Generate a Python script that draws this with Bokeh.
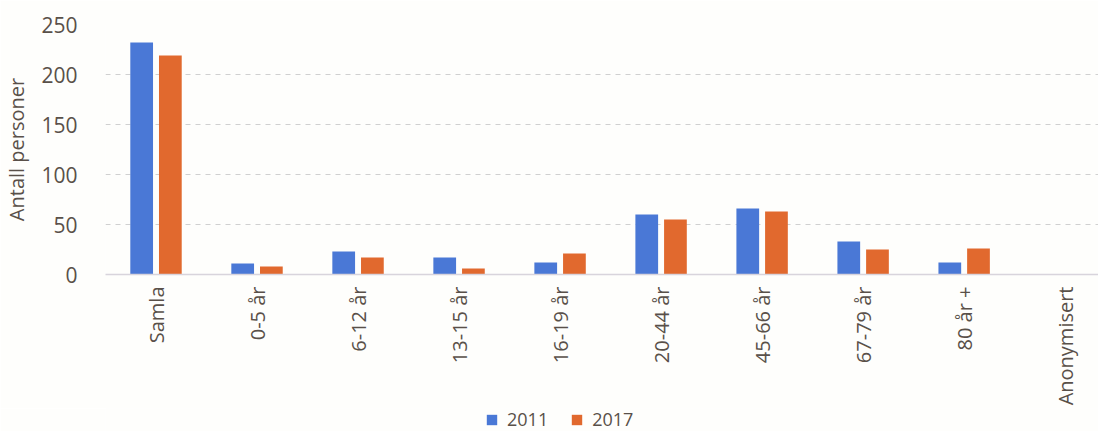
import numpy as np
from bokeh.plotting import figure
from bokeh.layouts import column
from bokeh.models import ColumnDataSource, Range1d, FixedTicker, Legend, LegendItem
from bokeh.transform import dodge
from bokeh.embed import file_html
from bokeh.resources import INLINE

categories = ["Samla", "0-5 år", "6-12 år", "13-15 år", "16-19 år", "20-44 år",
              "45-66 år", "67-79 år", "80 år +", "Anonymisert"]
v2011 = [232, 11, 23, 17, 12, 60, 66, 33, 12, 0]
v2017 = [219, 8, 17, 6, 21, 55, 63, 25, 26, 0]
series = ["2011", "2017"]
y_ticks = [0, 50, 100, 150, 200, 250]

BLUE = "#4a78d6"
ORANGE = "#e1692e"
TEXT = "#595049"
BG = "#fefefc"
FONT = "Open Sans"

src = ColumnDataSource(dict(x=list(range(len(categories))), v2011=v2011, v2017=v2017))

p = figure(width=1098, height=408, output_backend="svg", toolbar_location=None,
           x_range=Range1d(-0.5, 9.33), y_range=Range1d(0, 250),
           min_border_left=95, min_border_right=0, min_border_top=24, min_border_bottom=134)
p.background_fill_color = BG
p.border_fill_color = BG
p.outline_line_color = None

r1 = p.vbar(x=dodge("x", -0.142, range=p.x_range), top="v2011", width=0.225, source=src,
            fill_color=BLUE, line_color=None)
r2 = p.vbar(x=dodge("x", 0.142, range=p.x_range), top="v2017", width=0.225, source=src,
            fill_color=ORANGE, line_color=None)

# x axis
xa = p.xaxis[0]
xa.ticker = FixedTicker(ticks=list(range(len(categories))))
xa.major_label_overrides = {i: c for i, c in enumerate(categories)}
xa.major_label_orientation = np.pi / 2
xa.major_tick_line_color = None
xa.minor_tick_line_color = None
xa.axis_line_color = "#d8d4dc"
xa.axis_line_width = 1.5
xa.major_label_text_font = FONT
xa.major_label_text_font_size = "20px"
xa.major_label_text_color = TEXT
xa.major_label_standoff = 6

# y axis
ya = p.yaxis[0]
ya.ticker = FixedTicker(ticks=y_ticks)
ya.axis_line_color = None
ya.major_tick_line_color = None
ya.minor_tick_line_color = None
ya.major_label_text_font = FONT
ya.major_label_text_font_size = "21px"
ya.major_label_text_color = TEXT
ya.major_label_standoff = 22
ya.axis_label = "Antall personer"
ya.axis_label_text_font = FONT
ya.axis_label_text_font_style = "normal"
ya.axis_label_text_font_size = "20px"
ya.axis_label_text_color = TEXT
ya.axis_label_standoff = 8

p.xgrid.grid_line_color = None
p.ygrid.grid_line_color = "#d0d0d0"
p.ygrid.grid_line_dash = "5 5"
p.ygrid.grid_line_width = 1

# legend strip below the chart (frame aligned with the chart's frame)
lf = figure(width=1098, height=23, output_backend="svg", toolbar_location=None,
            x_range=Range1d(0, 1), y_range=Range1d(0, 1), min_border=0,
            x_axis_location=None, y_axis_location=None)
lf.background_fill_color = BG
lf.border_fill_color = BG
lf.outline_line_color = None
lf.axis.visible = False
lf.grid.visible = False
g1 = lf.vbar(x=[0.5], top=[0], width=0.1, fill_color=BLUE, line_color=None)
g2 = lf.vbar(x=[0.5], top=[0], width=0.1, fill_color=ORANGE, line_color=None)

legend = Legend(items=[LegendItem(label=series[0], renderers=[g1]),
                       LegendItem(label=series[1], renderers=[g2])],
                location=(380, 0), orientation="horizontal")
legend.background_fill_alpha = 0
legend.border_line_color = None
legend.label_text_font = FONT
legend.label_text_font_size = "18px"
legend.label_text_color = TEXT
legend.glyph_width = 13
legend.glyph_height = 13
legend.padding = 0
legend.margin = 0
legend.spacing = 22
legend.label_standoff = 9
lf.add_layout(legend, "center")

open("out.html", "w").write(file_html(column(p, lf), INLINE))
